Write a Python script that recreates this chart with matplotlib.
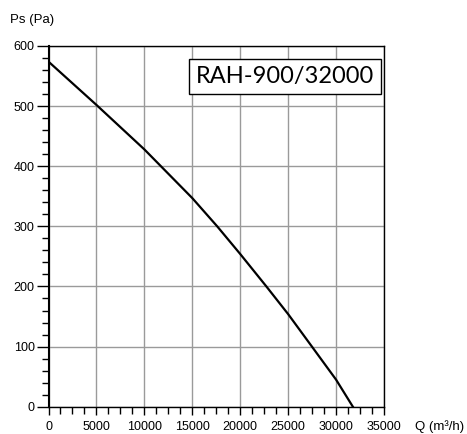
import matplotlib.pyplot as plt
from matplotlib.ticker import MultipleLocator

# fan curve
flow = [0, 5000, 10000, 15000, 17600, 20000, 22730, 25000, 27480, 30000, 31750]
pressure = [574, 502, 428, 347, 300, 254, 200, 154, 100, 45, 0]
model = "RAH-900/32000"

plt.rcParams["font.family"] = ["Liberation Sans", "DejaVu Sans"]

fig = plt.figure(figsize=(4.67, 4.34), dpi=100)
ax = fig.add_axes([48.5 / 467, 1 - 406.7 / 434, (384 - 48.5) / 467, (406.7 - 46) / 434])

ax.plot(flow, pressure, color="black", lw=1.6, zorder=3)

ax.set_xlim(0, 35000)
ax.set_ylim(0, 600)
ax.xaxis.set_major_locator(MultipleLocator(5000))
ax.xaxis.set_minor_locator(MultipleLocator(1250))
ax.yaxis.set_major_locator(MultipleLocator(100))
ax.yaxis.set_minor_locator(MultipleLocator(20))
ax.grid(True, which="major", color="#9a9a9a", lw=1.0)
ax.set_axisbelow(True)

ax.tick_params(axis="y", which="major", length=8.5, width=1, pad=1.5, labelsize=9)
ax.tick_params(axis="y", which="minor", length=5, width=1)
ax.tick_params(axis="x", which="major", length=5.5, width=1, pad=5, labelsize=9)
ax.tick_params(axis="x", which="minor", length=5, width=1)
for s in ax.spines.values():
    s.set_color("black")
    s.set_linewidth(1.0)
ax.spines["left"].set_linewidth(1.5)

fig.text(10 / 467, 1 - 20 / 434, "Ps (Pa)", fontsize=9.5, ha="left", va="center")
fig.text(415 / 467, 1 - 427 / 434, "Q (m³/h)", fontsize=9.5, ha="left", va="center")

ax.text(0.705, 0.915, model, transform=ax.transAxes, fontsize=17,
        ha="center", va="center", family=["Lato", "DejaVu Sans"],
        bbox=dict(boxstyle="square,pad=0.3", facecolor="white",
                  edgecolor="black", lw=1.0), zorder=4)

fig.savefig("out.png", dpi=100)
